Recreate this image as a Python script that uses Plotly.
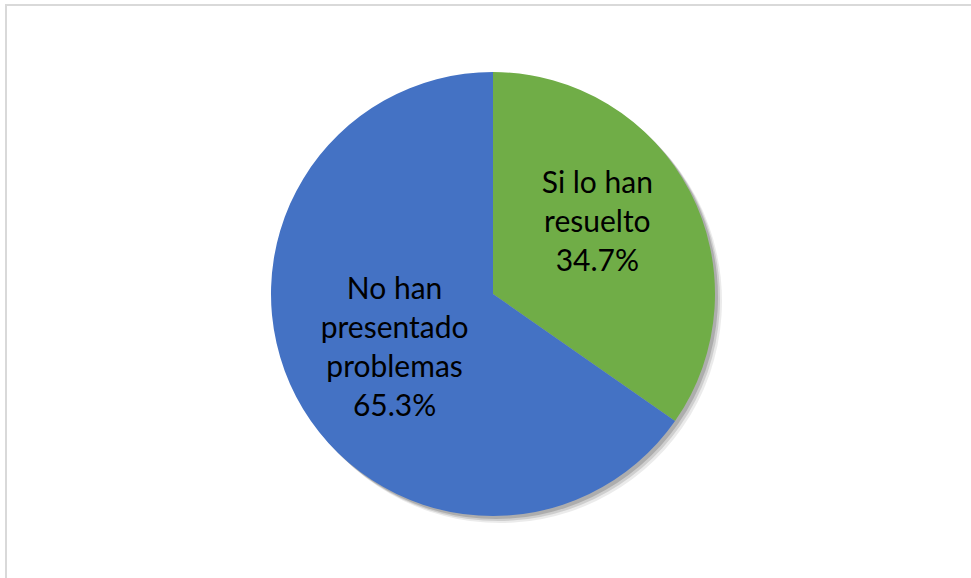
import plotly.graph_objects as go

labels = ["Si lo han<br>resuelto", "No han<br>presentado<br>problemas"]
values = [34.7, 65.3]
colors = ["#70ad47", "#4472c4"]

W, H = 971, 578
cx, cy, r = 493, 294, 222

dom_x = [(cx - r) / W, (cx + r) / W]
dom_y = [(H - cy - r) / H, (H - cy + r) / H]

fig = go.Figure()

# soft shadow layers
for off, op in [(7, 0.08), (5, 0.12), (3, 0.16)]:
    fig.add_trace(go.Pie(
        labels=labels, values=values, sort=False, direction="clockwise",
        domain=dict(x=[dom_x[0] + off / W, dom_x[1] + off / W],
                    y=[dom_y[0] - off / H, dom_y[1] - off / H]),
        marker=dict(colors=["rgba(0,0,0,%s)" % op] * 2, line=dict(width=0)),
        textinfo="none", hoverinfo="skip", showlegend=False,
    ))

fig.add_trace(go.Pie(
    labels=labels, values=values, sort=False, direction="clockwise",
    domain=dict(x=dom_x, y=dom_y),
    marker=dict(colors=colors, line=dict(width=0)),
    texttemplate=["%{label}<br>%{value:.1f}%<br> ", "%{label}<br>%{value:.1f}%"],
    textposition="inside", insidetextorientation="horizontal",
    textfont=dict(family="Lato, Carlito, sans-serif", size=30, color="#000000"),
    hoverinfo="label+value", showlegend=False,
))

fig.update_layout(
    width=W, height=H,
    margin=dict(l=0, r=0, t=0, b=0),
    paper_bgcolor="white", plot_bgcolor="white",
    showlegend=False,
    shapes=[dict(type="rect", xref="paper", yref="paper",
                 x0=6 / W, x1=1.02, y0=-0.02, y1=(H - 5) / H,
                 line=dict(color="#d9d9d9", width=2), fillcolor="rgba(0,0,0,0)")],
)

fig.write_html("out.html", config={"displayModeBar": False},
               post_script="document.body.style.margin='0';document.body.style.padding='0';")
